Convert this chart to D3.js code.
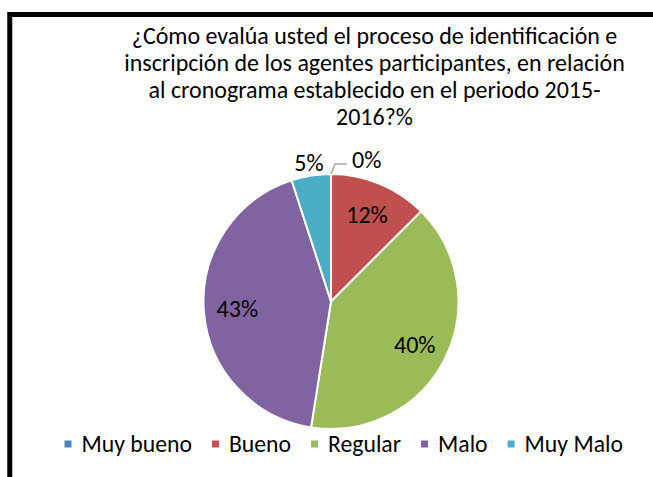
<!DOCTYPE html>
<html>
<head>
<meta charset="utf-8">
<script src="https://cdn.jsdelivr.net/npm/d3@7"></script>
<style>
  html, body { margin: 0; padding: 0; background: #fff; overflow: hidden; }
  text { font-family: Carlito, Calibri, 'Liberation Sans', Arial, sans-serif; fill: #000; }
</style>
</head>
<body>
<svg id="chart" width="653" height="477"></svg>
<script>
const titleLines = [
  '¿Cómo evalúa usted el proceso de identificación e',
  'inscripción de los agentes participantes, en relación',
  'al cronograma establecido en el periodo 2015-',
  '2016?%',
];
const categories = ['Muy bueno', 'Bueno', 'Regular', 'Malo', 'Muy Malo'];
const values = [0, 12.5, 40, 42.5, 5];
const labels = ['0%', '12%', '40%', '43%', '5%'];
const colors = ['#4F81BD', '#C0504D', '#9BBB59', '#8064A2', '#4BACC6'];

const width = 653;
const height = 477;
const cx = 331;
const cy = 301.5;
const radius = 127.5;

const svg = d3.select('#chart');

// frame (runs off the right and bottom of the picture)
svg.append('rect')
  .attr('x', 9.75).attr('y', 14.5)
  .attr('width', 720).attr('height', 520)
  .attr('fill', 'none')
  .attr('stroke', '#000')
  .attr('stroke-width', 5);

// measure text width at 100px so sizes can be fitted
const measure = (txt) => {
  const t = svg.append('text').attr('font-size', 100).text(txt);
  const w = t.node().getComputedTextLength();
  t.remove();
  return w;
};

// title
const titleTargets = [485, 501, 453];
const titleSize = d3.mean(titleTargets, (w, i) => (w / measure(titleLines[i])) * 100);
const titleY = d3.scaleLinear().domain([0, 1]).range([44, 71]);

svg.append('g')
  .selectAll('text')
  .data(titleLines)
  .enter()
  .append('text')
  .attr('x', 374.5)
  .attr('y', (d, i) => titleY(i))
  .attr('text-anchor', 'middle')
  .attr('font-size', titleSize)
  .text((d) => d);

// pie
const pie = d3.pie().sort(null).value((d) => d)(values);
const arc = d3.arc().innerRadius(0).outerRadius(radius);
const pieG = svg.append('g').attr('transform', `translate(${cx},${cy})`);

pieG.selectAll('path')
  .data(pie)
  .enter()
  .append('path')
  .attr('d', arc)
  .attr('fill', (d, i) => colors[i])
  .attr('stroke', '#fff')
  .attr('stroke-width', 2)
  .attr('stroke-linejoin', 'round');

const labelSize = 24;
const inArc = d3.arc().innerRadius(94).outerRadius(94);
const outArc = d3.arc().innerRadius(radius + 13).outerRadius(radius + 13);
const mid = (d) => (d.startAngle + d.endAngle) / 2;

pie.forEach((d, i) => {
  if (d.value === 0) {
    // leader line for empty slice
    const a = mid(d);
    const p0 = [Math.sin(a) * radius, -Math.cos(a) * radius];
    const p1 = [p0[0] + 4, p0[1] - 10];
    const p2 = [p1[0] + 12, p1[1]];
    pieG.append('path')
      .attr('d', d3.line()([p0, p1, p2]))
      .attr('fill', 'none')
      .attr('stroke', '#A6A6A6')
      .attr('stroke-width', 1.5);
    pieG.append('text')
      .attr('x', p2[0] + 5)
      .attr('y', p2[1] - 4)
      .attr('dy', '0.35em')
      .attr('font-size', labelSize)
      .text(labels[i]);
  } else {
    const c = (d.value < 8 ? outArc : inArc).centroid(d);
    pieG.append('text')
      .attr('x', c[0])
      .attr('y', c[1])
      .attr('dy', '0.35em')
      .attr('text-anchor', 'middle')
      .attr('font-size', labelSize)
      .text(labels[i]);
  }
});

// legend
const legendLeft = 64.5;
const legendRight = 623;
const swatch = 7;
const textOff = 17;
const gap = 20;
const rawW = categories.map(measure);
const legendSize = ((legendRight - legendLeft - categories.length * textOff - (categories.length - 1) * gap) / d3.sum(rawW)) * 100;
const legendW = rawW.map((w) => (w * legendSize) / 100);
const legendX = [];
categories.forEach((c, i) => {
  legendX.push(i === 0 ? legendLeft : legendX[i - 1] + textOff + legendW[i - 1] + gap);
});

const legend = svg.append('g')
  .selectAll('g')
  .data(categories)
  .enter()
  .append('g')
  .attr('transform', (d, i) => `translate(${legendX[i]},444)`);

legend.append('rect')
  .attr('x', 0).attr('y', -swatch / 2)
  .attr('width', swatch).attr('height', swatch)
  .attr('fill', (d, i) => colors[i]);

legend.append('text')
  .attr('x', textOff)
  .attr('y', 7.7)
  .attr('font-size', legendSize)
  .text((d) => d);
</script>
</body>
</html>
